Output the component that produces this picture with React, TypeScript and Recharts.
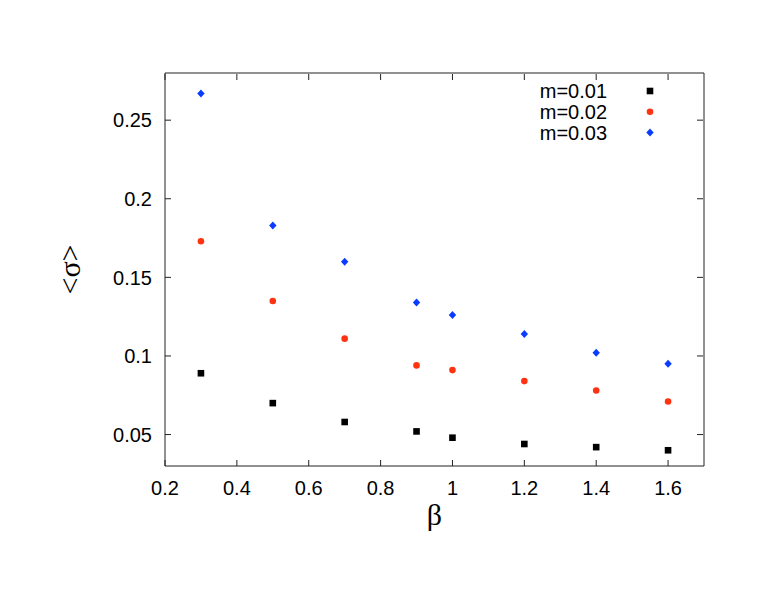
import { Label, Scatter, ScatterChart, XAxis, YAxis } from "recharts";

const betas = [0.3, 0.5, 0.7, 0.9, 1.0, 1.2, 1.4, 1.6];
const m001 = [0.089, 0.07, 0.058, 0.052, 0.048, 0.044, 0.042, 0.04];
const m002 = [0.173, 0.135, 0.111, 0.094, 0.091, 0.084, 0.078, 0.071];
const m003 = [0.267, 0.183, 0.16, 0.134, 0.126, 0.114, 0.102, 0.095];
const xTicks = [0.2, 0.4, 0.6, 0.8, 1, 1.2, 1.4, 1.6];
const yTicks = [0.05, 0.1, 0.15, 0.2, 0.25];

const font = "'Liberation Sans', Arial, Helvetica, sans-serif";
const serif = "'Liberation Serif', 'Times New Roman', serif";
const frame = "#222222";
const TICK = 6;

const W = 763;
const H = 590;
const margin = { top: 73, right: 59, bottom: 94, left: 105 };
const Y_AXIS_W = 60;
const X_AXIS_H = 30;
// frame edges, derived from margins and axis sizes
const LEFT = margin.left + Y_AXIS_W;
const TOP = margin.top + 1;
const RIGHT = W - margin.right - 1;
const BOTTOM = H - margin.bottom - X_AXIS_H;

const Square = ({ cx, cy, fill }: any) => <rect x={cx - 3.3} y={cy - 3.3} width={6.6} height={6.6} fill={fill} />;
const Dot = ({ cx, cy, fill }: any) => <circle cx={cx} cy={cy} r={3.3} fill={fill} />;
const Diamond = ({ cx, cy, fill }: any) => (
  <path d={`M${cx},${cy - 4}L${cx + 3.7},${cy}L${cx},${cy + 4}L${cx - 3.7},${cy}Z`} fill={fill} />
);

const series = [
  { name: "m=0.01", values: m001, color: "#000000", Marker: Square },
  { name: "m=0.02", values: m002, color: "#ff3311", Marker: Dot },
  { name: "m=0.03", values: m003, color: "#0a3cff", Marker: Diamond },
];

const toPoints = (values: number[]) => betas.map((b, i) => ({ beta: b, sigma: values[i] }));

function BottomTick({ x, payload }: any) {
  return (
    <g>
      <path d={`M${x},${BOTTOM}V${BOTTOM - TICK}`} stroke={frame} />
      <text x={x} y={BOTTOM + 14} dy="0.75em" textAnchor="middle" fontSize={20} fontFamily={font} fill="#000">
        {String(payload.value)}
      </text>
    </g>
  );
}

function TopTick({ x }: any) {
  return <path d={`M${x},${TOP}V${TOP + TICK}`} stroke={frame} />;
}

function LeftTick({ y, payload }: any) {
  return (
    <g>
      <path d={`M${LEFT},${y}H${LEFT + TICK}`} stroke={frame} />
      <text x={LEFT - 13} y={y} dy="0.36em" textAnchor="end" fontSize={20} fontFamily={font} fill="#000">
        {String(payload.value)}
      </text>
    </g>
  );
}

function RightTick({ y }: any) {
  return <path d={`M${RIGHT},${y}H${RIGHT - TICK}`} stroke={frame} />;
}

function LegendBox() {
  return (
    <svg width={220} height={70} style={{ position: "absolute", left: 480, top: 80 }}>
      {series.map(({ name, color, Marker }, i) => {
        const cy = 11 + i * 20.7;
        return (
          <g key={name}>
            <text x={127} y={cy} dy="0.36em" textAnchor="end" fontSize={20} fontFamily={font} fill="#000">
              {name}
            </text>
            <Marker cx={170} cy={cy} fill={color} />
          </g>
        );
      })}
    </svg>
  );
}

export default function App() {
  return (
    <div style={{ position: "absolute", left: 0, top: 0, width: W, height: H, background: "#fff" }}>
      <ScatterChart width={W} height={H} margin={margin}>
        <XAxis
          type="number"
          dataKey="beta"
          domain={[0.2, 1.7]}
          ticks={xTicks}
          allowDataOverflow
          tick={<BottomTick />}
          tickLine={false}
          tickSize={0}
          height={X_AXIS_H}
          axisLine={{ stroke: frame }}
        >
          <Label value="β" position="bottom" offset={8} style={{ fontSize: 30, fontFamily: serif, fill: "#000" }} />
        </XAxis>
        <XAxis
          xAxisId="top"
          orientation="top"
          type="number"
          dataKey="beta"
          domain={[0.2, 1.7]}
          ticks={xTicks}
          allowDataOverflow
          mirror
          tick={<TopTick />}
          tickLine={false}
          tickSize={0}
          height={1}
          axisLine={{ stroke: frame }}
        />
        <YAxis
          type="number"
          dataKey="sigma"
          domain={[0.03, 0.28]}
          ticks={yTicks}
          allowDataOverflow
          tick={<LeftTick />}
          tickLine={false}
          tickSize={0}
          width={Y_AXIS_W}
          axisLine={{ stroke: frame }}
        >
          <Label
            content={({ viewBox }: any) => {
              const cx = viewBox.x - 36;
              const cy = viewBox.y + viewBox.height / 2;
              return (
                <text
                  x={cx}
                  y={cy}
                  transform={`rotate(-90 ${cx} ${cy})`}
                  textAnchor="middle"
                  dy="0.35em"
                  fontSize={30}
                  fontFamily={serif}
                  fill="#000"
                >
                  {"<σ>"}
                </text>
              );
            }}
          />
        </YAxis>
        <YAxis
          yAxisId="right"
          orientation="right"
          type="number"
          dataKey="sigma"
          domain={[0.03, 0.28]}
          ticks={yTicks}
          allowDataOverflow
          mirror
          tick={<RightTick />}
          tickLine={false}
          tickSize={0}
          width={1}
          axisLine={{ stroke: frame }}
        />
        {series.map(({ name, values, color, Marker }) => (
          <Scatter
            key={name}
            name={name}
            data={toPoints(values)}
            fill={color}
            shape={<Marker />}
            isAnimationActive={false}
          />
        ))}
        <Scatter
          xAxisId="top"
          yAxisId="right"
          data={toPoints(m001)}
          fill="none"
          shape={() => <g />}
          isAnimationActive={false}
        />
      </ScatterChart>
      <LegendBox />
    </div>
  );
}
